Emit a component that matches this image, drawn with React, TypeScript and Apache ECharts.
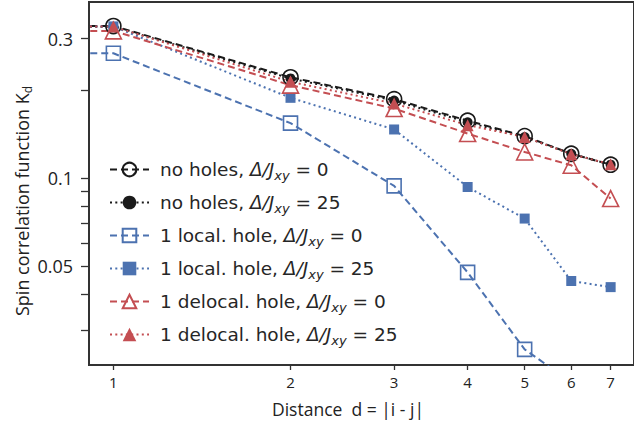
import React, { useEffect, useRef } from "react";
import * as echarts from "echarts";

// Distances d = |i - j|
const distances = [1, 2, 3, 4, 5, 6, 7];
// matplotlib clips the d = 0 entry on a log axis, leaving a flat lead-in at the left edge
const clippedOriginDistance = 0.5;

// Spin correlation K_d
const noHoles0 = [0.331, 0.221, 0.186, 0.157, 0.139, 0.121, 0.111];
const noHoles25 = [0.329, 0.219, 0.184, 0.155, 0.138, 0.121, 0.111];
const localHole0 = [0.267, 0.154, 0.0939, 0.0475, 0.0259, 0.02];
const localHole25 = [0.33, 0.188, 0.1465, 0.0931, 0.0726, 0.0444, 0.0423];
const delocHole0 = [0.3186, 0.2077, 0.1728, 0.1419, 0.1227, 0.1105, 0.085];
const delocHole25 = [0.3295, 0.2133, 0.1798, 0.1516, 0.1381, 0.1206, 0.1114];

const seriesNames = [
  "no holes, 0",
  "no holes, 25",
  "1 local. hole, 0",
  "1 local. hole, 25",
  "1 delocal. hole, 0",
  "1 delocal. hole, 25",
];

const yTickValues = [0.03, 0.04, 0.05, 0.06, 0.07, 0.08, 0.09, 0.1, 0.2, 0.3];
const yLabelValues = [0.05, 0.1, 0.3];
const xTickValues = [1, 2, 3, 4, 5, 6, 7];

const BLACK = "#1a1a1a";
const BLUE = "#4c72b0";
const RED = "#c44e52";
const DASH = [7, 4];
const DOT = [2, 3.3];

function toPairs(vals: number[]) {
  const pts: number[][] = [[clippedOriginDistance, vals[0]]];
  vals.forEach((v, i) => pts.push([distances[i], v]));
  return pts;
}

export default function App() {
  const ref = useRef<HTMLDivElement>(null);
  useEffect(() => {
    if (!ref.current) return;
    const chart = echarts.init(ref.current, undefined, { renderer: "svg" });

    const mk = (
      name: string,
      vals: number[],
      color: string,
      dash: number[],
      symbol: string,
      size: number,
      open: boolean
    ) => ({
      name,
      type: "line",
      data: toPairs(vals),
      symbol,
      symbolSize: size,
      clip: true,
      lineStyle: { color, width: 2, type: dash },
      itemStyle: open
        ? { color: "rgba(255,255,255,0)", borderColor: color, borderWidth: 1.6 }
        : { color, borderColor: color, borderWidth: 0 },
      emphasis: { disabled: true },
    });

    const legendText = (name: string) => {
      const idx = name.lastIndexOf(", ");
      const prefix = name.slice(0, idx + 2);
      const val = name.slice(idx + 2);
      return `{sp| }{n|${prefix}}{i|Δ/J}{s|xy}{n| = ${val}}`;
    };

    chart.setOption({
      animation: false,
      grid: {
        left: 89,
        right: -4,
        top: 2,
        bottom: 65,
        show: true,
        borderColor: "#333",
        borderWidth: 2,
        backgroundColor: "transparent",
      },
      xAxis: {
        type: "log",
        logBase: 10,
        min: 0.909,
        max: 7.67,
        axisLine: { show: true, lineStyle: { color: "#333", width: 2 } },
        axisTick: {
          show: true,
          length: 5,
          customValues: xTickValues,
          lineStyle: { color: "#333", width: 1.3 },
        },
        axisLabel: {
          customValues: xTickValues,
          fontSize: 15,
          color: "#222",
          fontFamily: "Open Sans",
          margin: 9,
          formatter: (v: number) => String(Math.round(v)),
        },
        splitLine: { show: false },
        minorTick: { show: false },
      },
      yAxis: {
        type: "log",
        logBase: 10,
        min: 0.0229,
        max: 0.4,
        axisLine: { show: true, lineStyle: { color: "#333", width: 2 } },
        axisTick: {
          show: true,
          length: 8,
          customValues: yTickValues,
          lineStyle: { color: "#333", width: 1.3 },
        },
        axisLabel: {
          customValues: yLabelValues,
          fontSize: 18,
          color: "#222",
          fontFamily: "Open Sans",
          margin: 16,
          formatter: (v: number) => String(Number(v.toPrecision(3))),
        },
        splitLine: { show: false },
        minorTick: { show: false },
      },
      legend: {
        orient: "vertical",
        left: 104,
        top: 152.5,
        itemWidth: 39,
        itemHeight: 17,
        itemGap: 9,
        data: seriesNames,
        formatter: legendText,
        selectedMode: false,
        textStyle: {
          color: "#262626",
          fontFamily: "DejaVu Sans",
          fontSize: 18.5,
          lineHeight: 24,
          rich: {
            sp: { width: 6, fontSize: 18.5, lineHeight: 24 },
            n: { fontSize: 18.5, fontFamily: "DejaVu Sans", color: "#262626", lineHeight: 24 },
            i: {
              fontSize: 18.5,
              fontFamily: "DejaVu Sans",
              fontStyle: "italic",
              color: "#262626",
              lineHeight: 24,
            },
            s: {
              fontSize: 13,
              fontFamily: "DejaVu Sans",
              fontStyle: "italic",
              color: "#262626",
              verticalAlign: "bottom",
              lineHeight: 15,
            },
          },
        },
      },
      graphic: [
        {
          type: "text",
          x: 272,
          y: 409,
          style: {
            text: "Distance  d = |i - j|",
            font: '17.5px "Open Sans"',
            fill: "#222",
            textAlign: "left",
            textVerticalAlign: "middle",
          },
        },
        {
          type: "text",
          x: 22,
          y: 201,
          rotation: Math.PI / 2,
          style: {
            text: "{a|Spin correlation function K}{b|d}",
            textAlign: "center",
            textVerticalAlign: "middle",
            rich: {
              a: { fontSize: 18, fontFamily: "Open Sans", fill: "#222", lineHeight: 22 },
              b: {
                fontSize: 12,
                fontFamily: "Open Sans",
                fill: "#222",
                verticalAlign: "bottom",
                lineHeight: 14,
              },
            },
          },
        },
      ],
      series: [
        mk(seriesNames[0], noHoles0, BLACK, DASH, "circle", 15, true),
        mk(seriesNames[1], noHoles25, BLACK, DOT, "circle", 10, false),
        mk(seriesNames[2], localHole0, BLUE, DASH, "rect", 14, true),
        mk(seriesNames[3], localHole25, BLUE, DOT, "rect", 10, false),
        mk(seriesNames[4], delocHole0, RED, DASH, "triangle", 16, true),
        mk(seriesNames[5], delocHole25, RED, DOT, "triangle", 12, false),
      ],
    });
    return () => chart.dispose();
  }, []);
  return <div ref={ref} style={{ width: 634, height: 430, position: "absolute", left: 0, top: 0 }} />;
}
